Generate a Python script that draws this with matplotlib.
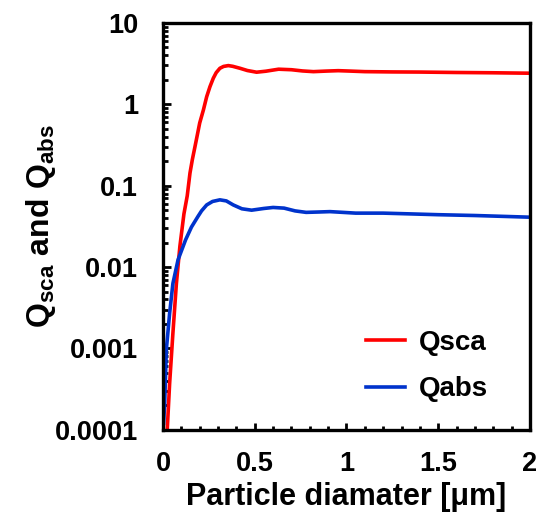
import matplotlib
matplotlib.use('Agg')
import matplotlib.pyplot as plt
from matplotlib.ticker import FixedLocator, LogLocator, MultipleLocator, FuncFormatter, NullFormatter

plt.rcParams['font.family'] = ['Liberation Sans', 'DejaVu Sans']
plt.rcParams['font.weight'] = 'bold'
plt.rcParams['mathtext.fontset'] = 'custom'
plt.rcParams['mathtext.rm'] = 'Liberation Sans:bold'
plt.rcParams['mathtext.it'] = 'Liberation Sans:bold'
plt.rcParams['mathtext.bf'] = 'Liberation Sans:bold'

# --- data ---
d_sca = [0.018, 0.023, 0.036, 0.054, 0.073, 0.092, 0.114, 0.132, 0.147, 0.16, 0.174, 0.187,
         0.20, 0.22, 0.238, 0.256, 0.274, 0.29, 0.31, 0.33, 0.356, 0.38, 0.42, 0.46,
         0.51, 0.56, 0.63, 0.70, 0.76, 0.82, 0.89, 0.955, 1.02, 1.1, 1.25, 1.4, 1.6, 1.8, 2.0]
q_sca = [0.00007, 0.0001, 0.00037, 0.00155, 0.0063, 0.018, 0.045, 0.075, 0.143, 0.21, 0.30, 0.42,
         0.59, 0.85, 1.24, 1.65, 2.09, 2.45, 2.77, 2.92, 2.99, 2.93, 2.77, 2.6,
         2.48, 2.55, 2.7, 2.66, 2.57, 2.52, 2.56, 2.59, 2.56, 2.52, 2.5, 2.49, 2.46, 2.44, 2.41]

d_abs = [0.003, 0.009, 0.018, 0.036, 0.054, 0.082, 0.123, 0.155, 0.19, 0.21, 0.238, 0.27,
         0.31, 0.345, 0.383, 0.43, 0.483, 0.55, 0.60, 0.66, 0.72, 0.78, 0.85, 0.91,
         0.98, 1.05, 1.2, 1.35, 1.5, 1.7, 1.85, 2.0]
q_abs = [0.00012, 0.00021, 0.00096, 0.0027, 0.0063, 0.0123, 0.0216, 0.031, 0.0417, 0.049, 0.058, 0.064,
         0.067, 0.065, 0.058, 0.052, 0.050, 0.0525, 0.054, 0.053, 0.049, 0.047, 0.0475, 0.048,
         0.047, 0.046, 0.046, 0.045, 0.044, 0.043, 0.042, 0.041]

yticks = [0.0001, 0.001, 0.01, 0.1, 1, 10]

fig = plt.figure(figsize=(5.38, 5.21), dpi=100)
ax = fig.add_axes([0.303, 0.175, 0.682, 0.781])

ax.plot(d_sca, q_sca, color='#ff0000', lw=2.6, label='Qsca')
ax.plot(d_abs, q_abs, color='#0033cc', lw=2.6, label='Qabs')

ax.set_yscale('log')
ax.set_xlim(0, 2)
ax.set_ylim(0.0001, 10)
ax.xaxis.set_major_locator(MultipleLocator(0.5))
ax.xaxis.set_minor_locator(MultipleLocator(0.1))
ax.xaxis.set_major_formatter(FuncFormatter(lambda v, p: f'{v:g}'))
ax.yaxis.set_major_locator(FixedLocator(yticks))
ax.yaxis.set_minor_locator(LogLocator(base=10, subs=range(2, 10), numticks=20))
ax.yaxis.set_major_formatter(FuncFormatter(lambda v, p: f'{v:g}'))
ax.yaxis.set_minor_formatter(NullFormatter())

ax.tick_params(which='both', direction='in', top=False, right=False, width=2.0,
               labelsize=19.5)
ax.tick_params(axis='y', which='major', length=6, pad=18)
ax.tick_params(axis='y', which='minor', length=3.5)
ax.tick_params(axis='x', which='major', length=5, pad=15)
ax.tick_params(axis='x', which='minor', length=3)
for lab in ax.get_xticklabels() + ax.get_yticklabels():
    lab.set_fontweight('bold')
for s in ax.spines.values():
    s.set_linewidth(2.4)

ax.set_xlabel('Particle diamater [\u03bcm]', fontsize=22, fontweight='bold', labelpad=4)
ax.set_ylabel(r'$\mathrm{Q_{sca}\ and\ Q_{abs}}$', fontsize=23, labelpad=-2)

leg = ax.legend(loc='center left', bbox_to_anchor=(0.553, 0.157), frameon=False,
                borderpad=0, borderaxespad=0,
                fontsize=20, handlelength=1.4, handletextpad=0.5, labelspacing=0.75)
for t in leg.get_texts():
    t.set_fontweight('bold')

fig.savefig('out.png', dpi=100)
